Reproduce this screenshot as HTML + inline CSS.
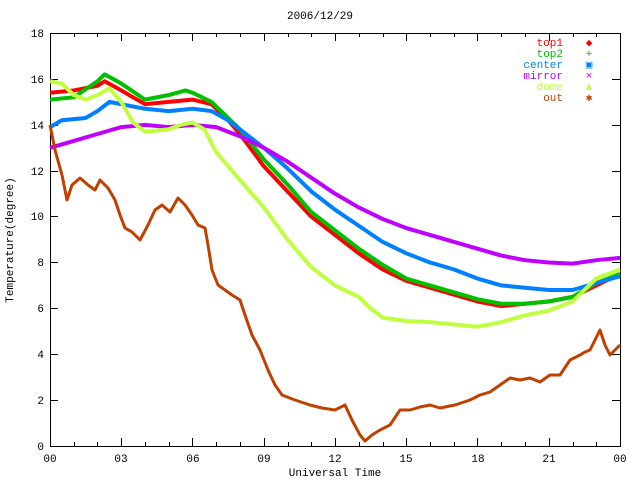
<!DOCTYPE html>
<html><head><style>
body{margin:0;background:#fff}
svg{display:block}
text{font-family:"Liberation Mono",monospace;font-size:11px}
</style></head><body>
<svg width="640" height="480" viewBox="0 0 640 480">
<rect width="640" height="480" fill="#fff"/>
<text x="320" y="19" text-anchor="middle">2006/12/29</text>
<text transform="translate(13,240) rotate(-90)" text-anchor="middle">Temperature(degree)</text>
<text x="335" y="476" text-anchor="middle">Universal Time</text>
<g text-anchor="end">
<text x="44" y="450">0</text><text x="44" y="404">2</text><text x="44" y="358">4</text><text x="44" y="312">6</text><text x="44" y="266">8</text><text x="44" y="220">10</text><text x="44" y="175">12</text><text x="44" y="129">14</text><text x="44" y="83">16</text><text x="44" y="37">18</text>
</g>
<g text-anchor="middle">
<text x="50" y="462">00</text><text x="121" y="462">03</text><text x="193" y="462">06</text><text x="264" y="462">09</text><text x="335" y="462">12</text><text x="406" y="462">15</text><text x="478" y="462">18</text><text x="549" y="462">21</text><text x="620" y="462">00</text>
</g>
<g stroke="#000" stroke-width="1" fill="none">
<rect x="50.5" y="33.5" width="570" height="413"/>
<path d="M50 400.5h8M50 354.5h8M50 308.5h8M50 262.5h8M50 216.5h8M50 171.5h8M50 125.5h8M50 79.5h8
M620 400.5h-8M620 354.5h-8M620 308.5h-8M620 262.5h-8M620 216.5h-8M620 171.5h-8M620 125.5h-8M620 79.5h-8
M121.5 446v-8M192.5 446v-8M264.5 446v-8M335.5 446v-8M406.5 446v-8M477.5 446v-8M549.5 446v-8
M121.5 33v8M192.5 33v8M264.5 33v8M335.5 33v8M406.5 33v8M477.5 33v8M549.5 33v8
M74.5 446v-4M97.5 446v-4M145.5 446v-4M169.5 446v-4M216.5 446v-4M240.5 446v-4M288.5 446v-4M311.5 446v-4M359.5 446v-4M383.5 446v-4M430.5 446v-4M454.5 446v-4M501.5 446v-4M525.5 446v-4M573.5 446v-4M596.5 446v-4
M74.5 33v4M97.5 33v4M145.5 33v4M169.5 33v4M216.5 33v4M240.5 33v4M288.5 33v4M311.5 33v4M359.5 33v4M383.5 33v4M430.5 33v4M454.5 33v4M501.5 33v4M525.5 33v4M573.5 33v4M596.5 33v4"/>
</g>
<g transform="translate(50,446) scale(23.75,-22.94)" fill="none" stroke-width="4" stroke-linejoin="round">
<polyline vector-effect="non-scaling-stroke" stroke="#ff0000" points="0,15.4 1,15.5 2,15.7 2.3,15.9 3,15.5 4,14.9 5,15 6,15.1 6.8,14.9 7.5,14.2 8,13.6 9,12.2 10,11.1 11,10 12,9.2 13,8.4 14,7.7 15,7.2 16,6.9 17,6.6 18,6.3 19,6.1 20,6.2 21,6.3 22,6.5 23,7 24,7.5"/>
<polyline vector-effect="non-scaling-stroke" stroke="#00c000" points="0,15.1 1,15.2 2,15.9 2.3,16.2 3,15.8 4,15.1 5,15.3 5.7,15.5 6,15.4 6.8,15 7.5,14.3 8,13.8 9,12.5 10,11.4 11,10.2 12,9.4 13,8.6 14,7.9 15,7.3 16,7 17,6.7 18,6.4 19,6.2 20,6.2 21,6.3 22,6.5 23,7.1 24,7.5"/>
<polyline vector-effect="non-scaling-stroke" stroke="#0080ff" points="0,13.9 0.5,14.2 1.5,14.3 2,14.6 2.5,15 3,14.9 4,14.7 5,14.6 6,14.7 6.8,14.6 7.5,14.2 8,13.8 9,13 10,12.1 11,11.1 12,10.3 13,9.6 14,8.9 15,8.4 16,8 17,7.7 18,7.3 19,7 20,6.9 21,6.8 22,6.8 23,7.1 24,7.4"/>
<polyline vector-effect="non-scaling-stroke" stroke="#c000ff" points="0,13 1,13.3 2,13.6 3,13.9 4,14 5,13.9 6,14 7,13.9 8,13.5 9,13 10,12.4 11,11.7 12,11 13,10.4 14,9.9 15,9.5 16,9.2 17,8.9 18,8.6 19,8.3 20,8.1 21,8 22,7.95 23,8.1 24,8.2"/>
<polyline vector-effect="non-scaling-stroke" stroke="#c0ff40" points="0,15.9 0.5,15.8 1,15.3 1.5,15.1 2,15.3 2.5,15.6 3,15 3.5,14.1 4,13.7 5,13.8 5.5,14 6,14.1 6.5,13.8 7,12.8 8,11.6 9,10.4 10,9 11,7.8 12,7 13,6.5 13.5,6 14,5.6 15,5.45 16,5.4 17,5.3 18,5.2 19,5.4 20,5.7 21,5.9 22,6.3 23,7.3 24,7.7"/>
</g>
<polyline fill="none" stroke="#c04000" stroke-width="3" stroke-linejoin="round" points="50,125 55,150 62,175 67,200 72,185 80,178 88,185 95,190 100,180 108,188 115,200 120,215 125,228 132,232 140,240 148,225 155,210 162,205 170,212 178,198 185,205 192,215 198,225 205,228 208,245 212,270 218,285 225,290 232,295 240,300 245,315 252,335 260,350 268,370 275,385 282,395 295,400 310,405 322,408 335,410 345,405 352,420 360,435 365,441 372,435 380,430 390,425 400,410 410,410 420,407 430,405 440,408 455,405 470,400 480,395 490,392 500,385 510,378 520,380 530,378 540,382 550,375 560,375 570,360 580,355 585,352 590,350 595,340 600,330 605,345 610,355 615,350 620,345"/>
<g text-anchor="end">
<text x="563" y="46" fill="#ff0000">top1</text>
<text x="563" y="57" fill="#00c000">top2</text>
<text x="563" y="68" fill="#0080ff">center</text>
<text x="563" y="79" fill="#c000ff">mirror</text>
<text x="563" y="90" fill="#c0ff40">dome</text>
<text x="563" y="101" fill="#c04000">out</text>
</g>
<g font-size="10" text-anchor="middle">
<text x="589" y="46" fill="#ff0000">◆</text>
<text x="589" y="57" fill="#00c000">+</text>
<text x="589" y="68" fill="#0080ff">▣</text>
<text x="589" y="79" fill="#c000ff">×</text>
<text x="589" y="90" fill="#c0ff40">▲</text>
<text x="589" y="101" fill="#c04000">✱</text>
</g>
</svg>
</body></html>
